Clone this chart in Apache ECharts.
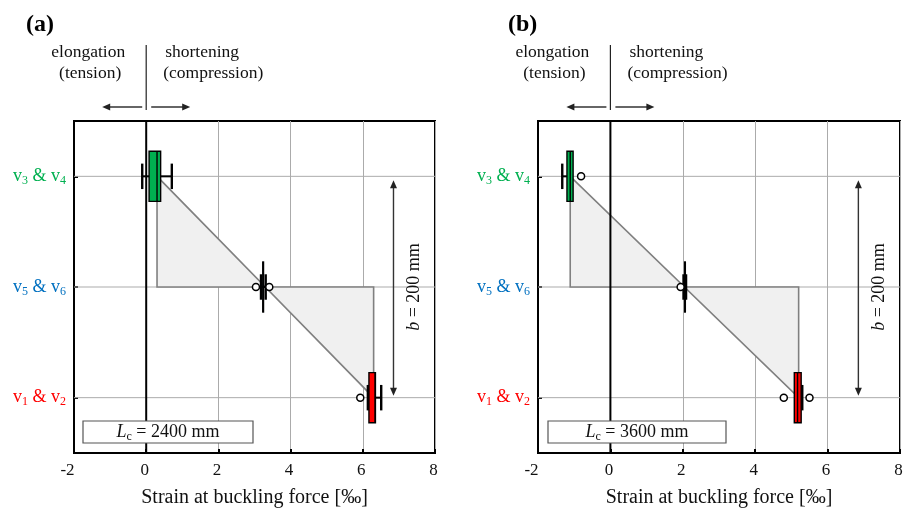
<!DOCTYPE html>
<html><head><meta charset="utf-8">
<script src="https://cdn.jsdelivr.net/npm/echarts@6/dist/echarts.min.js"></script>
<style>html,body{margin:0;padding:0;background:#fff}#c{width:913px;height:519px}</style>
</head><body><div id="c"></div>
<script>
// ---- data ----
const rows = ['v1 & v2', 'v5 & v6', 'v3 & v4'];          // bottom -> top
const rowColors = ['#ff0000', '#0070c0', '#00b050'];
const xTicks = [-2, 0, 2, 4, 6, 8];
const panelLabels = ['(a)', '(b)'];
const columnLengths = [2400, 3600];                    // L_c in mm
// box stats per row: [whisker low, Q1, median, Q3, whisker high]
const boxesA = [[6.14, 6.17, 6.34, 6.35, 6.51], [3.18, 3.23, 3.24, 3.25, 3.31], [-0.11, 0.08, 0.30, 0.40, 0.71]];
const boxesB = [[5.08, 5.08, 5.17, 5.27, 5.30], [2.02, 2.05, 2.06, 2.07, 2.09], [-1.33, -1.20, -1.11, -1.03, -1.03]];
const outliersA = [[5.93], [3.04, 3.41], []];
const outliersB = [[4.79, 5.50], [1.94], [-0.81]];
// linear strain profile: [bottom (v1&v2), top (v3&v4)]
const profileA = [6.30, 0.30];
const profileB = [5.20, -1.11];
const sectionDepth = 200; // b in mm

// ---- chart ----
const FONT = '"Liberation Serif","DejaVu Serif",serif';
const chart = echarts.init(document.getElementById('c'), null, {renderer: 'canvas'});
const grids = [
  {left: 74, top: 121, width: 361, height: 332},
  {left: 538, top: 121, width: 362, height: 332}
];

const rich = {};
rowColors.forEach((c, i) => {
  rich['n' + i] = {color: c, fontSize: 18, fontFamily: FONT};
  rich['s' + i] = {color: c, fontSize: 12, fontFamily: FONT, padding: [9, 0, 0, 0]};
});

function yLabel(v, i) {
  const m = v.match(/v(\d) & v(\d)/);
  return `{n${i}|v}{s${i}|${m[1]}}{n${i}| & v}{s${i}|${m[2]}}`;
}

function arrowHead(x, y, dir) { // dir: 'l','r','u','d'
  const L = 8, W = 3.5;
  let pts;
  if (dir === 'l') pts = [[x, y], [x + L, y - W], [x + L, y + W]];
  if (dir === 'r') pts = [[x, y], [x - L, y - W], [x - L, y + W]];
  if (dir === 'u') pts = [[x, y], [x - W, y + L], [x + W, y + L]];
  if (dir === 'd') pts = [[x, y], [x - W, y - L], [x + W, y - L]];
  return {type: 'polygon', shape: {points: pts}, style: {fill: '#222', stroke: null}};
}

function panelSeries(p, boxes, outliers, profile) {
  const ax = {xAxisIndex: p, yAxisIndex: p};
  const series = [];
  // horizontal grid lines at the row centres
  series.push(Object.assign({
    type: 'custom', silent: true, z: 1,
    data: rows.map((r, i) => [0, i]), encode: {x: 0, y: 1},
    renderItem(params, api) {
      const cs = params.coordSys;
      const y = api.coord([0, api.value(1)])[1];
      return {type: 'line', shape: {x1: cs.x, y1: y, x2: cs.x + cs.width, y2: y},
        style: {stroke: '#ababab', lineWidth: 1}};
    }
  }, ax));
  // strain-profile polygons
  series.push(Object.assign({
    type: 'custom', silent: true, z: 2,
    data: [[profile[0], profile[1]]], encode: {x: [0, 1]},
    renderItem(params, api) {
      const bot = api.value(0), top = api.value(1);
      const pT = api.coord([top, 2]), pB = api.coord([bot, 0]);
      const ym = api.coord([0, 1])[1];
      const xm = pT[0] + (pB[0] - pT[0]) * (ym - pT[1]) / (pB[1] - pT[1]);
      const st = {fill: '#f0f0f0', stroke: '#808080', lineWidth: 1.6, lineJoin: 'miter'};
      return {type: 'group', children: [
        {type: 'polygon', shape: {points: [pT, [pT[0], ym], [xm, ym]]}, style: st},
        {type: 'polygon', shape: {points: [[xm, ym], [pB[0], ym], pB]}, style: st}
      ]};
    }
  }, ax));
  // zero line
  series.push(Object.assign({
    type: 'custom', silent: true, z: 3,
    data: [[0, 0]], encode: {x: 0, y: 1},
    renderItem(params, api) {
      const cs = params.coordSys;
      const x = api.coord([api.value(0), 0])[0];
      return {type: 'line', shape: {x1: x, y1: cs.y, x2: x, y2: cs.y + cs.height},
        style: {stroke: '#000', lineWidth: 2}};
    }
  }, ax));
  // box plots
  series.push(Object.assign({
    type: 'custom', z: 4,
    data: boxes.map((b, i) => b.concat([i])), encode: {x: [0, 1, 2, 3, 4], y: 5},
    renderItem(params, api) {
      const lo = api.value(0), q1 = api.value(1), md = api.value(2), q3 = api.value(3), hi = api.value(4), row = api.value(5);
      const band = api.size([0, 1])[1];
      const hb = band * 0.226, hc = band * 0.115;
      const y = api.coord([q1, row])[1];
      const X = v => api.coord([v, row])[0];
      const ch = [];
      const wl = {stroke: '#000', lineWidth: 2};
      const cap = {stroke: '#000', lineWidth: 2.4};
      if (lo < q1) {
        ch.push({type: 'line', shape: {x1: X(lo), y1: y, x2: X(q1), y2: y}, style: wl});
        ch.push({type: 'line', shape: {x1: X(lo), y1: y - hc, x2: X(lo), y2: y + hc}, style: cap});
      }
      if (hi > q3) {
        ch.push({type: 'line', shape: {x1: X(q3), y1: y, x2: X(hi), y2: y}, style: wl});
        ch.push({type: 'line', shape: {x1: X(hi), y1: y - hc, x2: X(hi), y2: y + hc}, style: cap});
      }
      ch.push({type: 'rect', shape: {x: X(q1), y: y - hb, width: Math.max(X(q3) - X(q1), 0.5), height: 2 * hb},
        style: {fill: rowColors[row], stroke: '#000', lineWidth: 1.4}});
      ch.push({type: 'line', shape: {x1: X(md), y1: y - hb, x2: X(md), y2: y + hb}, style: {stroke: '#000', lineWidth: 1.4}});
      return {type: 'group', children: ch};
    }
  }, ax));
  // outliers
  series.push(Object.assign({
    type: 'scatter', z: 5, symbol: 'circle', symbolSize: 7,
    itemStyle: {color: '#fff', borderColor: '#000', borderWidth: 1.5, opacity: 1},
    data: outliers.flatMap((xs, i) => xs.map(x => [x, i]))
  }, ax));
  // annotations
  series.push(Object.assign({
    type: 'custom', silent: true, clip: false, z: 6,
    data: [[0, 0]], encode: {x: 0, y: 1},
    renderItem(params, api) {
      const cs = params.coordSys;
      const x0 = api.coord([0, 0])[0];
      const ch = [];
      const t = cs.y;
      const txt = (text, x, y, align, extra) => ({type: 'text', x, y,
        style: Object.assign({text, fill: '#111', fontSize: 17.5, fontFamily: FONT, align, verticalAlign: 'middle'}, extra || {})});
      // direction legend above plot
      ch.push({type: 'line', shape: {x1: x0, y1: t - 76, x2: x0, y2: t - 11}, style: {stroke: '#222', lineWidth: 1.2}});
      ch.push(txt('elongation', x0 - 58, t - 69, 'center'));
      ch.push(txt('(tension)', x0 - 56, t - 48, 'center'));
      ch.push(txt('shortening', x0 + 19, t - 69, 'left'));
      ch.push(txt('(compression)', x0 + 17, t - 48, 'left'));
      const ya = t - 14;
      ch.push({type: 'line', shape: {x1: x0 - 4, y1: ya, x2: x0 - 38, y2: ya}, style: {stroke: '#333', lineWidth: 1.4}});
      ch.push(arrowHead(x0 - 44, ya, 'l'));
      ch.push({type: 'line', shape: {x1: x0 + 5, y1: ya, x2: x0 + 38, y2: ya}, style: {stroke: '#333', lineWidth: 1.4}});
      ch.push(arrowHead(x0 + 44, ya, 'r'));
      // b = 200 mm dimension
      const xb = api.coord([6.85, 0])[0];
      const yTop = api.coord([0, 2])[1] + 4, yBot = api.coord([0, 0])[1] - 2;
      ch.push({type: 'line', shape: {x1: xb, y1: yTop + 6, x2: xb, y2: yBot - 6}, style: {stroke: '#333', lineWidth: 1.4}});
      ch.push(arrowHead(xb, yTop, 'u'));
      ch.push(arrowHead(xb, yBot, 'd'));
      const xt = api.coord([7.43, 0])[0];
      ch.push({type: 'text', x: xt, y: api.coord([0, 1])[1], rotation: Math.PI / 2,
        style: {text: '{i|b} = ' + sectionDepth + ' mm', fill: '#111', fontSize: 18, fontFamily: FONT,
          align: 'center', verticalAlign: 'middle',
          rich: {i: {fontStyle: 'italic', fontSize: 18, fontFamily: FONT, fill: '#111'}}}});
      // L_c box
      const bw = p === 0 ? 170 : 178;
      const bx = cs.x + (p === 0 ? 9 : 10), by = cs.y + cs.height - 32;
      ch.push({type: 'rect', shape: {x: bx, y: by, width: bw, height: 22}, style: {fill: '#fff', stroke: '#555', lineWidth: 1.2}});
      ch.push({type: 'text', x: bx + bw / 2, y: by + 11,
        style: {text: '{i|L}{s|c} = ' + columnLengths[p] + ' mm', fill: '#111', fontSize: 18, fontFamily: FONT,
          align: 'center', verticalAlign: 'middle',
          rich: {i: {fontStyle: 'italic', fontSize: 18, fontFamily: FONT},
                 s: {fontSize: 12, fontFamily: FONT, padding: [9, 0, 0, 0]}}}});
      return {type: 'group', children: ch};
    }
  }, ax));
  return series;
}

const option = {
  animation: false,
  backgroundColor: '#fff',
  title: panelLabels.map((t, i) => ({
    text: t, left: i === 0 ? 21 : 503, top: 8,
    textStyle: {fontFamily: FONT, fontWeight: 'bold', fontSize: 24, color: '#000'}
  })),
  grid: grids.map(g => Object.assign({show: true, borderColor: '#000', borderWidth: 2, backgroundColor: 'transparent'}, g)),
  xAxis: grids.map((g, i) => ({
    gridIndex: i, type: 'value', min: xTicks[0], max: xTicks[xTicks.length - 1], interval: xTicks[1] - xTicks[0],
    name: 'Strain at buckling force [‰]', nameLocation: 'middle', nameGap: 35,
    nameTextStyle: {fontFamily: FONT, fontSize: 20, color: '#111'},
    axisLine: {show: true, onZero: false, lineStyle: {color: '#000', width: 2}},
    axisTick: {show: true, inside: true, length: 4, lineStyle: {color: '#000', width: 2}},
    axisLabel: {fontFamily: FONT, fontSize: 17, color: '#111', margin: 9,
      formatter: v => (v < 0 ? '{neg|' + v + '}' : '{pos|' + v + '}'),
      rich: {neg: {fontFamily: FONT, fontSize: 17, color: '#111', padding: [0, 13, 0, 0]},
             pos: {fontFamily: FONT, fontSize: 17, color: '#111', padding: [0, 3, 0, 0]}}},
    splitLine: {show: true, lineStyle: {color: '#ababab', width: 1}}
  })),
  yAxis: grids.map((g, i) => ({
    gridIndex: i, type: 'category', data: rows, boundaryGap: true,
    axisLine: {show: true, onZero: false, lineStyle: {color: '#000', width: 2}},
    axisTick: {show: true, inside: true, alignWithLabel: true, length: 4, lineStyle: {color: '#000', width: 2}},
    axisLabel: {interval: 0, margin: 8, formatter: yLabel, rich},
    splitLine: {show: false}
  })),
  series: panelSeries(0, boxesA, outliersA, profileA).concat(panelSeries(1, boxesB, outliersB, profileB))
};
chart.setOption(option);
</script></body></html>
